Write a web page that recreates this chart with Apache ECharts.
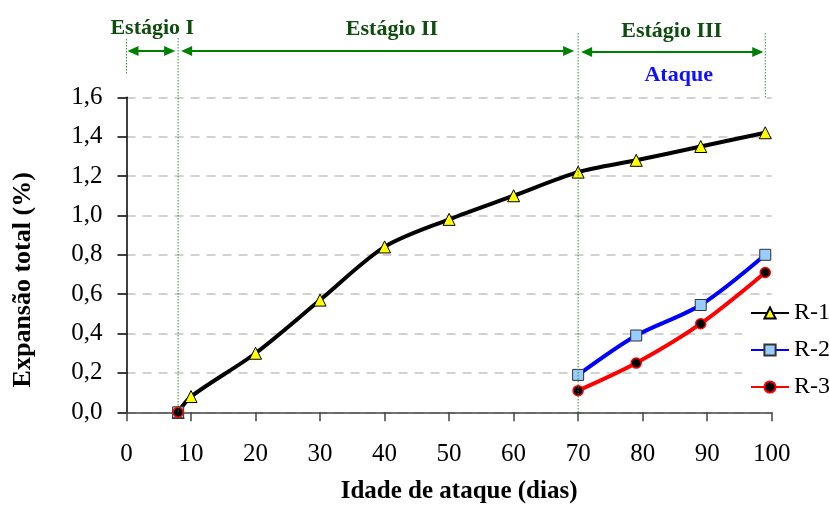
<!DOCTYPE html>
<html>
<head>
<meta charset="utf-8">
<script src="https://cdn.jsdelivr.net/npm/echarts@6/dist/echarts.min.js"></script>
<style>
  html, body { margin: 0; padding: 0; background: #fff; }
  #chart { width: 829px; height: 529px; }
</style>
</head>
<body>
<div id="chart"></div>
<script>
var FONT = '"Liberation Serif", "Times New Roman", serif';

// dias de ataque / expansão total (%)
var r1Data = [[8, 0], [10, 0.08], [20, 0.30], [30, 0.57], [40, 0.84], [50, 0.98], [60, 1.10], [70, 1.22], [79, 1.28], [89, 1.35], [99, 1.42]];
var r2Data = [[8, 0], '-', [70, 0.19], [79, 0.39], [89, 0.545], [99, 0.80]];
var r3Data = [[8, 0], '-', [70, 0.11], [79, 0.25], [89, 0.45], [99, 0.71]];

var xTicks = { min: 0, max: 100, step: 10 };
var yTicks = { min: 0, max: 1.6, step: 0.2 };

// limites dos estágios (dias)
var stageBounds = [0, 8, 70, 99];

var chart = echarts.init(document.getElementById('chart'));

var option = {
	backgroundColor: '#fff',
	animation: false,
	textStyle: { fontFamily: FONT, color: '#000' },
	grid: { left: 126.5, right: 57.3, top: 97.3, bottom: 116.7 },
	legend: {
		orient: 'vertical',
		left: 742,
		top: 296,
		padding: [4, 0, 4, 8],
		backgroundColor: '#fff',
		itemWidth: 38,
		itemHeight: 14,
		itemGap: 11,
		textStyle: { fontFamily: FONT, fontSize: 24, color: '#000', lineHeight: 26 },
		data: ['R-1', 'R-2', 'R-3']
	},
	xAxis: {
		type: 'value',
		min: xTicks.min,
		max: xTicks.max,
		interval: xTicks.step,
		name: 'Idade de ataque (dias)',
		nameLocation: 'middle',
		nameGap: 67,
		nameTextStyle: { fontFamily: FONT, fontSize: 25, fontWeight: 'bold', color: '#000', padding: [0, 0, 0, 20] },
		axisLine: { lineStyle: { color: '#444', width: 1.5 } },
		axisTick: { length: 9, lineStyle: { color: '#444', width: 1.5 } },
		axisLabel: { fontFamily: FONT, fontSize: 25, color: '#000', margin: 30 },
		splitLine: { show: false }
	},
	yAxis: {
		type: 'value',
		min: yTicks.min,
		max: yTicks.max,
		interval: yTicks.step,
		name: 'Expansão total (%)',
		nameLocation: 'middle',
		nameGap: 90,
		nameTextStyle: { fontFamily: FONT, fontSize: 26, fontWeight: 'bold', color: '#000', padding: [0, 50, 0, 0] },
		axisLine: { show: true, lineStyle: { color: '#000', width: 1.5 } },
		axisTick: { show: true, length: 9, lineStyle: { color: '#000', width: 1.5 } },
		axisLabel: {
			fontFamily: FONT, fontSize: 25, color: '#000', margin: 24,
			formatter: function (v) { return v.toFixed(1).replace('.', ','); }
		},
		splitLine: { show: true, lineStyle: { color: '#c4c4c4', width: 1.5, type: [9, 7] } }
	},
	series: [{
		name: 'R-1',
		type: 'line',
		smooth: 0.3,
		data: r1Data,
		symbol: 'triangle',
		symbolSize: 12,
		lineStyle: { color: '#000', width: 4 },
		itemStyle: { color: '#ffff00', borderColor: '#000', borderWidth: 1 }
	}, {
		name: 'R-2',
		type: 'line',
		smooth: 0.3,
		connectNulls: false,
		data: r2Data,
		symbol: 'rect',
		symbolSize: 11,
		lineStyle: { color: '#0000ff', width: 4 },
		itemStyle: { color: '#99ccff', borderColor: '#333', borderWidth: 1 }
	}, {
		name: 'R-3',
		type: 'line',
		smooth: 0.3,
		connectNulls: false,
		data: r3Data,
		symbol: 'circle',
		symbolSize: 10,
		lineStyle: { color: '#ff0000', width: 4 },
		itemStyle: { color: '#000', borderColor: '#ff0000', borderWidth: 1.5 }
	}]
};
chart.setOption(option);

// anotações dos estágios, posicionadas a partir dos eixos
var px = function (d) { return chart.convertToPixel({ xAxisIndex: 0 }, d); };
var py = function (v) { return chart.convertToPixel({ yAxisIndex: 0 }, v); };
var GREEN = '#008000';
var DARK_GREEN = '#0f4d0f';

function vline(x, y1, y2) {
	return {
		type: 'line',
		shape: { x1: x, y1: y1, x2: x, y2: y2 },
		style: { stroke: '#2f8f2f', lineWidth: 1, lineDash: [1.5, 1.5] },
		z: 100
	};
}
function arrow(xa, xb, y) {
	var h = 11, w = 5;
	return [{
		type: 'line',
		shape: { x1: xa + h - 2, y1: y, x2: xb - h + 2, y2: y },
		style: { stroke: GREEN, lineWidth: 2 },
		z: 100
	}, {
		type: 'polygon',
		shape: { points: [[xa, y], [xa + h, y - w], [xa + h, y + w]] },
		style: { fill: GREEN },
		z: 100
	}, {
		type: 'polygon',
		shape: { points: [[xb, y], [xb - h, y - w], [xb - h, y + w]] },
		style: { fill: GREEN },
		z: 100
	}];
}
function label(text, x, y, color) {
	return {
		type: 'text',
		x: x, y: y,
		style: {
			text: text, fill: color, font: 'bold 22px ' + FONT,
			align: 'center', verticalAlign: 'middle'
		},
		z: 100
	};
}

var b0 = px(stageBounds[0]), b1 = px(stageBounds[1]), b2 = px(stageBounds[2]), b3 = px(stageBounds[3]);
var yTop = py(yTicks.max), yBase = py(0);

var els = [
	vline(b0, 39, 75),
	vline(b1, 38, yBase),
	vline(b2, 33, yBase),
	vline(b3, 33, yTop)
];
els = els.concat(arrow(b0 + 1, b1 - 3, 51));
els = els.concat(arrow(b1 + 3, b2 - 4, 51));
els = els.concat(arrow(b2 + 3, b3 - 2, 52));
els.push(label('Estágio I', (b0 + b1) / 2, 28, DARK_GREEN));
els.push(label('Estágio II', 392, 29, DARK_GREEN));
els.push(label('Estágio III', (b2 + b3) / 2, 31, DARK_GREEN));
els.push(label('Ataque', (b2 + b3) / 2 + 7, 75, '#1010ff'));

chart.setOption({ graphic: { elements: els } });
</script>
</body>
</html>
